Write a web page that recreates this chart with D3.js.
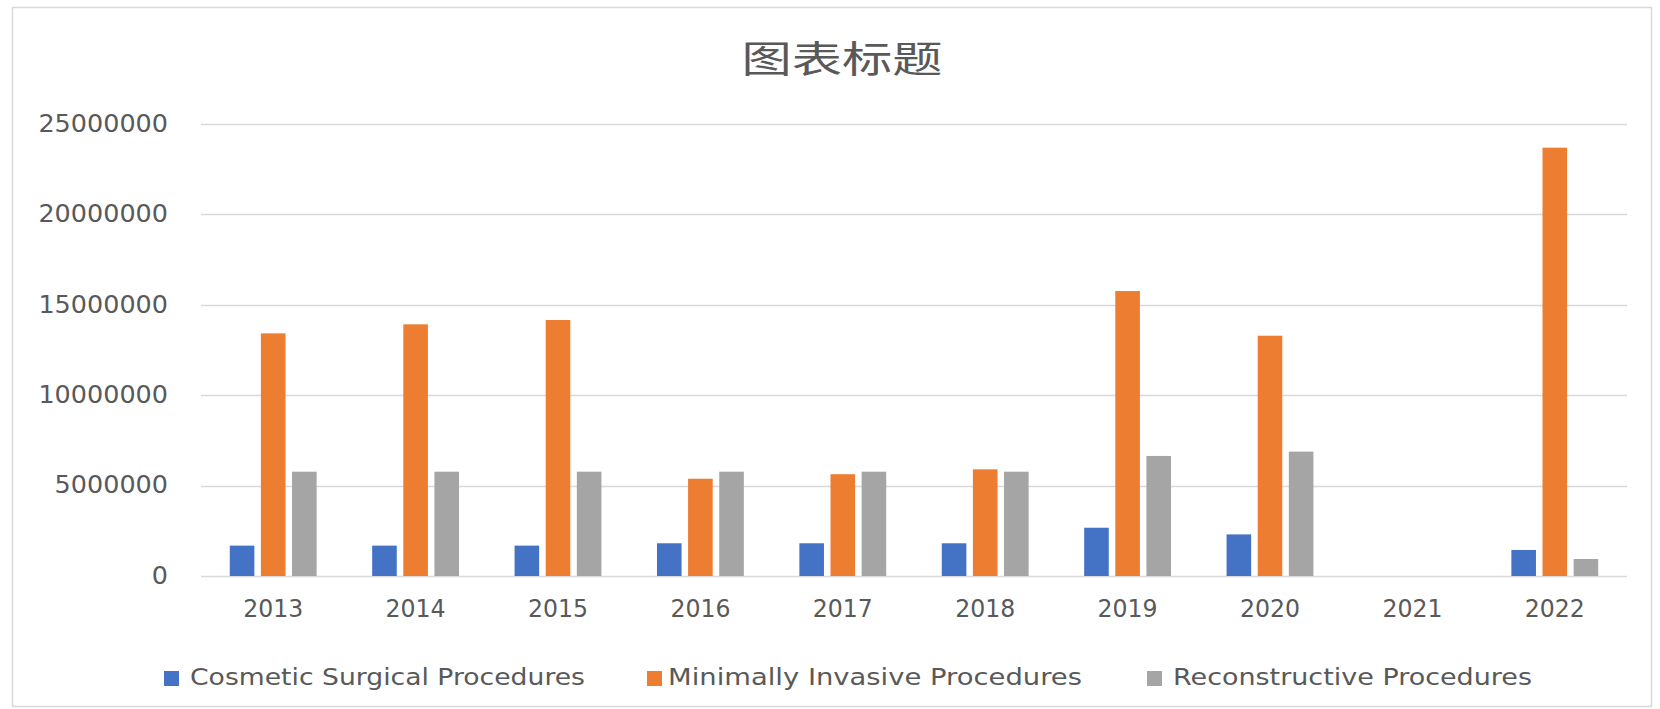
<!DOCTYPE html>
<html>
<head>
<meta charset="utf-8">
<script src="https://cdn.jsdelivr.net/npm/d3@7/dist/d3.min.js"></script>
<style>
  html, body { margin: 0; padding: 0; background: #ffffff; }
  svg { display: block; }
</style>
</head>
<body>
<svg id="chart" width="1660" height="709"></svg>
<script>
// ---- data ----
const categories = ["2013", "2014", "2015", "2016", "2017", "2018", "2019", "2020", "2021", "2022"];
const seriesNames = ["Cosmetic Surgical Procedures", "Minimally Invasive Procedures", "Reconstructive Procedures"];
const cosmeticSurgical = [1680000, 1680000, 1680000, 1810000, 1810000, 1810000, 2670000, 2300000, 0, 1440000];
const minimallyInvasive = [13420000, 13920000, 14160000, 5380000, 5630000, 5900000, 15760000, 13290000, 0, 23690000];
const reconstructive = [5770000, 5770000, 5770000, 5770000, 5770000, 5770000, 6640000, 6880000, 0, 940000];
const yTicks = [0, 5000000, 10000000, 15000000, 20000000, 25000000];
const colors = ["#4472C4", "#ED7D31", "#A5A5A5"];
const title = "图表标题";

const seriesValues = [cosmeticSurgical, minimallyInvasive, reconstructive];
const table = categories.map((c, i) => ({
  cat: c,
  vals: seriesNames.map((s, j) => ({ key: s, idx: j, value: seriesValues[j][i] }))
}));

const svg = d3.select("#chart");
const textColor = "#595959";

// border
svg.append("rect").attr("x", 12.5).attr("y", 7.5).attr("width", 1639).attr("height", 699)
  .attr("fill", "#ffffff").attr("stroke", "#d9d9d9").attr("stroke-width", 1.5);

// title
svg.append("text").attr("x", 842).attr("y", 73)
  .attr("text-anchor", "middle")
  .attr("font-family", "'Noto Sans CJK SC', sans-serif")
  .attr("font-size", 37).attr("fill", textColor)
  .attr("textLength", 201).attr("lengthAdjust", "spacingAndGlyphs")
  .text(title);

// scales
const x0 = d3.scaleBand().domain(categories).range([201, 1625]).paddingInner(0.39).paddingOuter(0.195);
const x1 = d3.scaleBand().domain(seriesNames).range([0, x0.bandwidth()]).paddingInner(0.21).paddingOuter(0);
const y = d3.scaleLinear().domain([0, 25000000]).range([576, 124]);

// gridlines
svg.append("g").selectAll("line").data(yTicks).join("line")
  .attr("x1", 201).attr("x2", 1627)
  .attr("y1", d => Math.round(y(d)) + 0.5).attr("y2", d => Math.round(y(d)) + 0.5)
  .attr("stroke", "#d9d9d9").attr("stroke-width", 1.5);

// y axis labels
const yAxis = d3.axisLeft(y).tickValues(yTicks).tickSize(0).tickPadding(0).tickFormat(d => String(d));
const yg = svg.append("g").attr("transform", "translate(168,0)").call(yAxis);
yg.select(".domain").remove();
yg.selectAll(".tick text")
  .attr("text-anchor", "start")
  .attr("x", d => -String(d).length * 16.2)
  .attr("font-family", "'DejaVu Sans', sans-serif")
  .attr("font-size", 24.5).attr("fill", textColor)
  .attr("dy", "0.3em")
  .attr("textLength", d => String(d).length * 16.2)
  .attr("lengthAdjust", "spacingAndGlyphs");

// bars
const groups = svg.append("g").selectAll("g").data(table).join("g")
  .attr("transform", d => `translate(${x0(d.cat) + 1},0)`);
groups.selectAll("rect").data(d => d.vals.filter(v => v.value > 0)).join("rect")
  .attr("x", d => x1(d.key))
  .attr("width", x1.bandwidth())
  .attr("y", d => y(d.value))
  .attr("height", d => y(0) - y(d.value))
  .attr("fill", d => colors[d.idx]);

// x axis labels
const xAxis = d3.axisBottom(x0).tickSize(0).tickPadding(0);
const xg = svg.append("g").attr("transform", "translate(1,0)").call(xAxis);
xg.select(".domain").remove();
xg.selectAll(".tick text")
  .attr("text-anchor", "start")
  .attr("x", -30)
  .attr("y", 617).attr("dy", 0)
  .attr("font-family", "'DejaVu Sans', sans-serif")
  .attr("font-size", 24).attr("fill", textColor)
  .attr("textLength", 60).attr("lengthAdjust", "spacingAndGlyphs");

// legend
const legendItems = [
  { name: seriesNames[0], sx: 164, tx: 190, tw: 395 },
  { name: seriesNames[1], sx: 647, tx: 668, tw: 414 },
  { name: seriesNames[2], sx: 1147, tx: 1173, tw: 359 }
];
const lg = svg.append("g").selectAll("g").data(legendItems).join("g");
lg.append("rect").attr("x", d => d.sx).attr("y", 671).attr("width", 15).attr("height", 15)
  .attr("fill", (d, i) => colors[i]);
lg.append("text").attr("x", d => d.tx).attr("y", 685)
  .attr("font-family", "'DejaVu Sans', sans-serif")
  .attr("font-size", 23).attr("fill", textColor)
  .attr("textLength", d => d.tw).attr("lengthAdjust", "spacingAndGlyphs")
  .text(d => d.name);
</script>
</body>
</html>
